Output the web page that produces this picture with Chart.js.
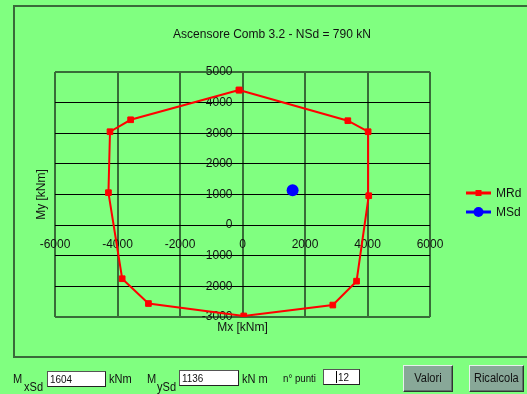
<!DOCTYPE html>
<html>
<head>
<meta charset="utf-8">
<script src="https://cdn.jsdelivr.net/npm/chart.js@4/dist/chart.umd.min.js"></script>
<style>
  html, body { margin:0; padding:0; width:527px; height:394px; overflow:hidden; background:#80ff80;
    font-family:"Liberation Sans", Arial, sans-serif; color:#111; }
  #frame { position:absolute; left:13px; top:5px; width:540px; height:353px; box-sizing:border-box;
    border:2px solid #3a6a3a; }
  #chartBox { position:absolute; left:17px; top:0; width:510px; height:394px; }
  .lbl, .sub { position:absolute; font-size:12px; line-height:13px; white-space:nowrap;
    transform:scaleX(0.92); transform-origin:0 0; }
  .box { position:absolute; background:#fff; box-sizing:border-box; border:1px solid #222;
    border-top-color:#555; border-left-color:#555; padding:1px 0 0 2px; overflow:hidden;
    font-size:11px; line-height:12px; }
  .box span.t { display:inline-block; vertical-align:top; transform:scaleX(0.9); transform-origin:0 0; white-space:nowrap; }
  .btn { position:absolute; box-sizing:border-box; background:#88a898; text-align:center;
    border:1px solid #333; border-top-color:#e8f0ec; border-left-color:#e8f0ec;
    box-shadow: inset -1px -1px 0 #5c7468; font-size:12px; line-height:25px; }
  .btn span { display:inline-block; transform:scaleX(0.92); }
  .caret { display:inline-block; width:1px; height:12px; background:#000; vertical-align:top; margin:0 1px 0 0; }
</style>
</head>
<body>
<div id="frame"></div>
<div id="chartBox"><canvas id="chart"></canvas></div>

<div class="lbl" style="left:13px;top:373px;">M</div>
<div class="sub" style="left:24px;top:381px;">xSd</div>
<div class="box" style="left:47px;top:371px;width:59px;height:16px;"><span class="t">1604</span></div>
<div class="lbl" style="left:109px;top:373px;">kNm</div>

<div class="lbl" style="left:147px;top:373px;">M</div>
<div class="sub" style="left:157px;top:381px;">ySd</div>
<div class="box" style="left:179px;top:370px;width:60px;height:16px;"><span class="t">1136</span></div>
<div class="lbl" style="left:242px;top:373px;">kN m</div>

<div class="lbl" style="left:283px;top:372px;font-size:11px;transform:scaleX(0.88);">n° punti</div>
<div class="box" style="left:323px;top:369px;width:37px;height:16px;padding-left:12px;"><span class="caret"></span><span class="t">12</span></div>

<div class="btn" style="left:403px;top:365px;width:50px;height:27px;"><span>Valori</span></div>
<div class="btn" style="left:469px;top:365px;width:55px;height:27px;"><span>Ricalcola</span></div>

<script>
// Section title and axis captions
const chartTitle = 'Ascensore Comb 3.2 - NSd = 790 kN';
const xCaption = 'Mx [kNm]';
const yCaption = 'My [kNm]';

// Resisting moment domain MRd (kNm), 12 points around the section
const mrdX = [-110, -3580, -4240, -4290, -3850, -3010, 40, 2890, 3650, 4040, 4020, 3370];
const mrdY = [4410, 3440, 3050, 1060, -1750, -2560, -2965, -2610, -1830, 960, 3050, 3410];

// Design moments MSd (kNm)
const msdX = [1604];
const msdY = [1136];

// Axis ranges and tick steps
const xRange = [-6000, 6000];
const xStep = 2000;
const yRange = [-3000, 5000];
const yStep = 1000;

const GREEN_LINE = '#386c38';
const TEXT = '#111';

// Closed polygon of the resisting domain
const mrdPoints = mrdX.map((x, i) => ({ x: x, y: mrdY[i] }));
mrdPoints.push({ x: mrdX[0], y: mrdY[0] });
const msdPoints = msdX.map((x, i) => ({ x: x, y: msdY[i] }));

Chart.defaults.font.family = "'Liberation Sans', Arial, sans-serif";
Chart.defaults.font.size = 12;
Chart.defaults.color = TEXT;

// Legend on the right: a short line with the dataset marker in the middle
const sideLegend = {
  id: 'sideLegend',
  afterDraw(chart, args, opts) {
    const ctx = chart.ctx;
    ctx.save();
    chart.data.datasets.forEach((ds, i) => {
      const y = opts.top + i * opts.rowGap;
      const x0 = opts.left, x1 = opts.left + opts.lineLen;
      ctx.strokeStyle = ds.borderColor;
      ctx.lineWidth = 3;
      ctx.beginPath(); ctx.moveTo(x0, y); ctx.lineTo(x1, y); ctx.stroke();
      ctx.fillStyle = ds.pointBackgroundColor;
      const cx = (x0 + x1) / 2;
      if (ds.pointStyle === 'rect') {
        ctx.fillRect(cx - 3, y - 3, 6, 6);
      } else {
        ctx.beginPath(); ctx.arc(cx, y, 5, 0, Math.PI * 2); ctx.fill();
      }
      ctx.fillStyle = TEXT;
      ctx.font = "12px 'Liberation Sans', Arial, sans-serif";
      ctx.textBaseline = 'middle';
      ctx.textAlign = 'left';
      ctx.fillText(ds.label, x1 + 5, y + 1);
    });
    ctx.restore();
  }
};

const plainNumber = v => String(v);
const isEdge = (c, range) => c.tick && (c.tick.value === range[0] || c.tick.value === range[1]);

// Hidden helper axes used only to reserve margins / carry captions
const helperAxis = (axis, position, range) => ({
  type: 'linear',
  axis: axis,
  position: position,
  min: range[0], max: range[1],
  ticks: { display: false },
  grid: { display: false, drawTicks: false },
  border: { display: false }
});

new Chart(document.getElementById('chart'), {
  type: 'scatter',
  data: {
    datasets: [
      {
        label: 'MRd',
        data: mrdPoints,
        showLine: true,
        borderColor: '#ff0000',
        borderWidth: 2,
        pointStyle: 'rect',
        pointRadius: 4,
        pointBorderWidth: 1,
        pointBackgroundColor: '#ff0000',
        pointBorderColor: '#ff0000'
      },
      {
        label: 'MSd',
        data: msdPoints,
        showLine: false,
        borderColor: '#0000ff',
        pointStyle: 'circle',
        pointRadius: 6,
        pointBorderWidth: 0,
        pointBackgroundColor: '#0000ff',
        pointBorderColor: '#0000ff'
      }
    ]
  },
  options: {
    responsive: true,
    maintainAspectRatio: false,
    animation: false,
    events: [],
    layout: { padding: 0 },
    plugins: {
      legend: { display: false },
      tooltip: { enabled: false },
      title: {
        display: true,
        text: chartTitle,
        color: TEXT,
        font: { size: 12, weight: 'normal' },
        padding: { top: 27.8, bottom: 29.8 }
      },
      sideLegend: { left: 449, lineLen: 25, top: 193, rowGap: 19 }
    },
    scales: {
      x: {
        type: 'linear',
        position: { y: 0 },
        min: xRange[0], max: xRange[1],
        ticks: { stepSize: xStep, autoSkip: false, maxRotation: 0, padding: 12, callback: plainNumber },
        grid: { color: GREEN_LINE, lineWidth: 2, drawTicks: false },
        border: { display: false },
        afterFit: s => { s.height = 0; }
      },
      y: {
        type: 'linear',
        position: 'center',
        min: yRange[0], max: yRange[1],
        ticks: { stepSize: yStep, autoSkip: false, padding: 10, callback: plainNumber },
        grid: {
          color: c => isEdge(c, yRange) ? GREEN_LINE : '#000',
          lineWidth: c => isEdge(c, yRange) ? 2 : 1,
          drawTicks: false
        },
        border: { display: false },
        afterFit: s => { s.width = 0; }
      },
      xCap: Object.assign(helperAxis('x', 'bottom', xRange), {
        title: { display: true, text: xCaption, color: TEXT, font: { size: 12 }, padding: { top: 0, bottom: 58.8 } },
        afterFit: s => { s.height = 77; }
      }),
      yCap: Object.assign(helperAxis('y', 'left', yRange), {
        title: { display: true, text: yCaption, color: TEXT, font: { size: 12 }, padding: { top: 17.8, bottom: 0 } },
        afterFit: s => { s.width = 38; }
      }),
      yRightMargin: Object.assign(helperAxis('y', 'right', yRange), {
        afterFit: s => { s.width = 97; }
      })
    }
  },
  plugins: [sideLegend]
});
</script>
</body>
</html>
